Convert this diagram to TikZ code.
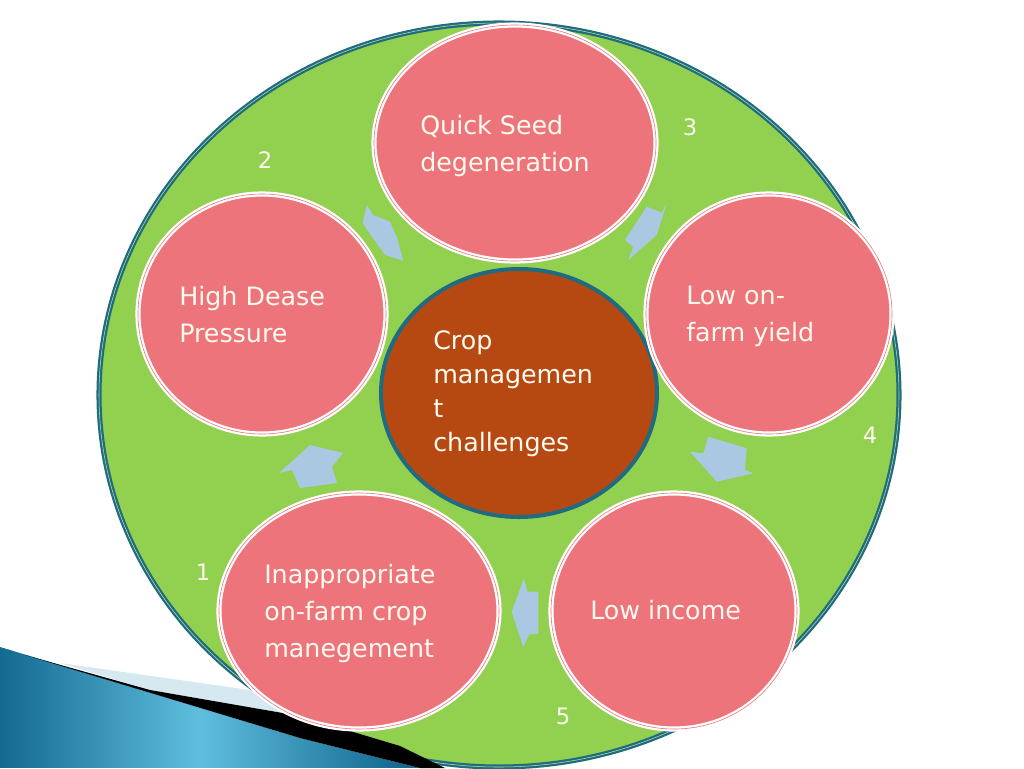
\documentclass[tikz,border=0pt]{standalone}
\usepackage{fontspec}
\setmainfont{DejaVu Sans}
\definecolor{ringgreen}{RGB}{146,208,80}
\definecolor{ringteal}{RGB}{31,107,130}
\definecolor{ballpink}{RGB}{236,116,122}
\definecolor{hubbrown}{RGB}{182,73,18}
\definecolor{arrowblue}{RGB}{170,200,226}
\definecolor{txtcream}{RGB}{255,250,240}
\definecolor{decodark}{RGB}{20,105,145}
\definecolor{decolight}{RGB}{95,190,222}
\definecolor{decopale}{RGB}{214,232,240}

\begin{document}
\begin{tikzpicture}[x=0.75pt,y=0.75pt,yscale=-1,xscale=1,
    pinkball/.style={fill=ballpink, draw=white, double=ballpink, double distance=0.45pt, line width=1.7pt},
    blkarrow/.style={fill=arrowblue, draw=none},
    lbl/.style={anchor=north west, inner sep=0pt, align=left, text=txtcream, font=\fontsize{19}{27.75}\selectfont},
    num/.style={inner sep=0pt, text=txtcream, font=\fontsize{17}{20}\selectfont}]
\useasboundingbox (0,0) rectangle (1024,768);

%Shape: Ellipse [outer ring]
\draw [fill=ringgreen, draw=ringteal, double=ringgreen!60!white, double distance=0.4pt, line width=1.7pt] (499,395) ellipse (400 and 372);

%Shape: corner decoration (banded gradient)
\begin{scope}
  \clip (0,647) -- (300,738) -- (420,768) -- (0,768) -- cycle;
  \foreach \i in {0,...,105} {
    \pgfmathtruncatemacro\p{min(100,abs(\i*4+2-200)/2)}
    \fill [decodark!\p!decolight] (\i*4,640) rectangle (\i*4+4.6,768);
  }
\end{scope}
\fill [decopale] (60,663) -- (250,690) -- (345,712) -- (345,729) -- (300,716) -- (150,690) -- cycle;
\fill [black] (25,655) -- (150,690) -- (300,716) -- (400,746) -- (445,768) -- (420,768) -- (300,738) -- cycle;

%Shape: Ellipse [hub]
\draw [fill=hubbrown, draw=ringteal, line width=3pt] (519,393) ellipse (138 and 124);

%Shape: Ellipses [steps]
\draw [pinkball] (515,143) ellipse (141 and 118);
\draw [pinkball] (769,314) ellipse (123 and 120);
\draw [pinkball] (674,611) ellipse (123 and 118);
\draw [pinkball] (359,611) ellipse (140 and 118);
\draw [pinkball] (262,314) ellipse (124 and 120);

%Shape: block arrows
\fill [blkarrow] (310,445) -- (343,453) -- (332,467) -- (337,483) -- (300,488) -- (292,470) -- (279,473) -- cycle;
\fill [blkarrow] (366.7,205) -- (373.3,215) -- (390,221.7) -- (396.7,236.7) -- (403.3,260.7) -- (385,255) -- (362.7,223.3) -- cycle;
\fill [blkarrow] (646.7,206.7) -- (661.7,212.7) -- (666.7,203.3) -- (656.7,235) -- (628.3,260) -- (633.3,247.3) -- (625,240) -- cycle;
\fill [blkarrow] (708.3,436.7) -- (746.7,448.3) -- (745,470) -- (753.3,473.3) -- (716.7,481.7) -- (690,451.7) -- (703.3,453.3) -- cycle;
\fill [blkarrow] (538.3,591.7) -- (538.3,634) -- (529.3,634) -- (523.3,647.3) -- (511.7,611.7) -- (524,578.3) -- (527.3,591.7) -- cycle;

% Text Node
\draw (420,115) node (seedtxt) [lbl] {Quick Seed\\degeneration};
% Text Node
\draw (686,286) node (yieldtxt) [lbl] {Low on-\\farm yield};
% Text Node
\draw (590,600) node (incometxt) [lbl] {Low income};
% Text Node
\draw (264,564) node (croptxt) [lbl] {Inappropriate\\on-farm crop\\manegement};
% Text Node
\draw (179,286) node (diseasetxt) [lbl] {High Dease\\Pressure};
% Text Node
\draw (433,330) node (hubtxt) [lbl, font=\fontsize{19}{25.7}\selectfont] {Crop\\managemen\\t\\challenges};

% Text Node
\draw (203,572) node (one) [num] {1};
% Text Node
\draw (265,160) node (two) [num] {2};
% Text Node
\draw (690,127) node (three) [num] {3};
% Text Node
\draw (870,435) node (four) [num] {4};
% Text Node
\draw (563,716) node (five) [num] {5};
\end{tikzpicture}
\end{document}
